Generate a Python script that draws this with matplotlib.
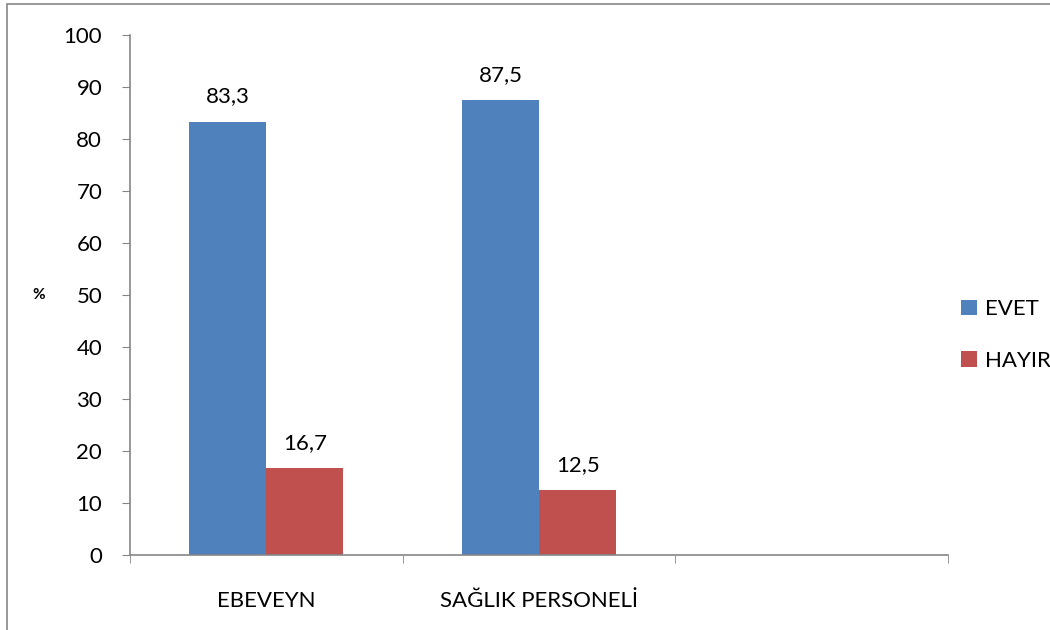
import matplotlib.pyplot as plt
import numpy as np
from matplotlib.patches import Rectangle

# data
categories = ['EBEVEYN', 'SAĞLIK PERSONELİ', '']
evet = [83.3, 87.5, np.nan]
hayir = [16.7, 12.5, np.nan]
evet_lbl = ['83,3', '87,5']
hayir_lbl = ['16,7', '12,5']
series_names = ['EVET', 'HAYIR']
yticks = list(range(0, 101, 10))

plt.rcParams['font.family'] = ['Lato', 'DejaVu Sans']
blue = '#4F81BD'
red = '#C0504D'
gray = '#868686'
fs = 16

fig = plt.figure(figsize=(10.5, 6.3), dpi=100)
ax = fig.add_axes([130 / 1050, 1 - 555 / 630, (948 - 130) / 1050, (555 - 35) / 630])

x = np.arange(len(categories))
w = 0.283
ax.bar(x - w / 2, evet, w, color=blue, label=series_names[0])
ax.bar(x + w / 2, hayir, w, color=red, label=series_names[1])

for i, lab in enumerate(evet_lbl):
    ax.annotate(lab, (x[i] - w / 2, evet[i]), xytext=(0, 11), textcoords='offset points',
                ha='center', va='bottom', fontsize=fs)
for i, lab in enumerate(hayir_lbl):
    ax.annotate(lab, (x[i] + w / 2, hayir[i]), xytext=(0, 11), textcoords='offset points',
                ha='center', va='bottom', fontsize=fs)

ax.set_xlim(-0.5, len(categories) - 0.5)
ax.set_ylim(0, 100)
ax.set_yticks(yticks)
ax.tick_params(axis='y', labelsize=fs, length=6, color=gray, pad=14)

ax.set_xticks(x)
ax.set_xticklabels(categories, fontsize=fs)
ax.set_xticks(np.arange(len(categories) + 1) - 0.5, minor=True)
ax.tick_params(axis='x', which='major', length=0, pad=26)
ax.tick_params(axis='x', which='minor', length=6, color=gray)

for s in ['top', 'right']:
    ax.spines[s].set_visible(False)
for s in ['left', 'bottom']:
    ax.spines[s].set_color(gray)
    ax.spines[s].set_linewidth(1.2)

ax.set_ylabel('%', rotation=0, fontsize=11, fontweight='bold', labelpad=18, va='center')

ax.legend(loc='center left', bbox_to_anchor=(1.0, 0.423), frameon=False, fontsize=fs,
          handlelength=0.7, handleheight=0.7, handletextpad=0.35, labelspacing=1.4,
          borderaxespad=0.2)

# outer chart border
fig.patches.append(Rectangle((7 / 1050, -0.01), 1.1, 1 - 4 / 630 + 0.01, transform=fig.transFigure,
                             fill=False, edgecolor=gray, linewidth=1.2))

fig.savefig('out.png', dpi=100)
